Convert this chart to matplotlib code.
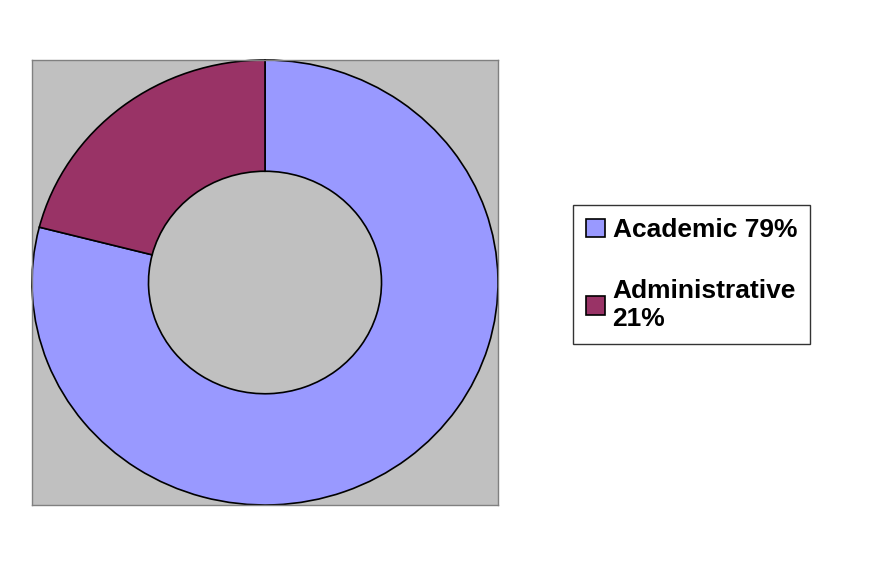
import matplotlib.pyplot as plt

labels = ['Academic 79%', 'Administrative\n21%']
shares = [79, 21]
colors = ['#9999ff', '#993366']

fig = plt.figure(figsize=(8.8, 5.8), dpi=100)
ax = fig.add_axes([32 / 880, 75 / 580, 466 / 880, 445 / 580])

wedges, _ = ax.pie(shares, colors=colors, startangle=90, counterclock=False,
                   radius=1.0, wedgeprops=dict(width=0.5, edgecolor='black', linewidth=1.2))
# pie switches the frame off; bring back the grey plot area
ax.set_frame_on(True)
ax.axis('on')
ax.set_facecolor('#c0c0c0')
ax.set_aspect('auto')
ax.set_xlim(-1.0, 1.0)
ax.set_ylim(-1.0, 1.0)
ax.set_xticks([])
ax.set_yticks([])
for s in ax.spines.values():
    s.set_visible(True)
    s.set_color('#808080')
    s.set_linewidth(1)

# white hole in the middle stays grey like the plot area
wedges[0].get_figure()

leg = fig.legend(wedges, labels, loc='upper left', bbox_to_anchor=(573 / 880, 1 - 205 / 580),
                 prop={'family': 'Liberation Sans', 'weight': 'bold', 'size': 19},
                 frameon=True, fancybox=False, edgecolor='black', handlelength=0.7,
                 handleheight=0.7, labelspacing=1.4, borderpad=0.5, handletextpad=0.3,
                 borderaxespad=0)
leg.get_frame().set_linewidth(1)

fig.savefig('out.png', dpi=100)
